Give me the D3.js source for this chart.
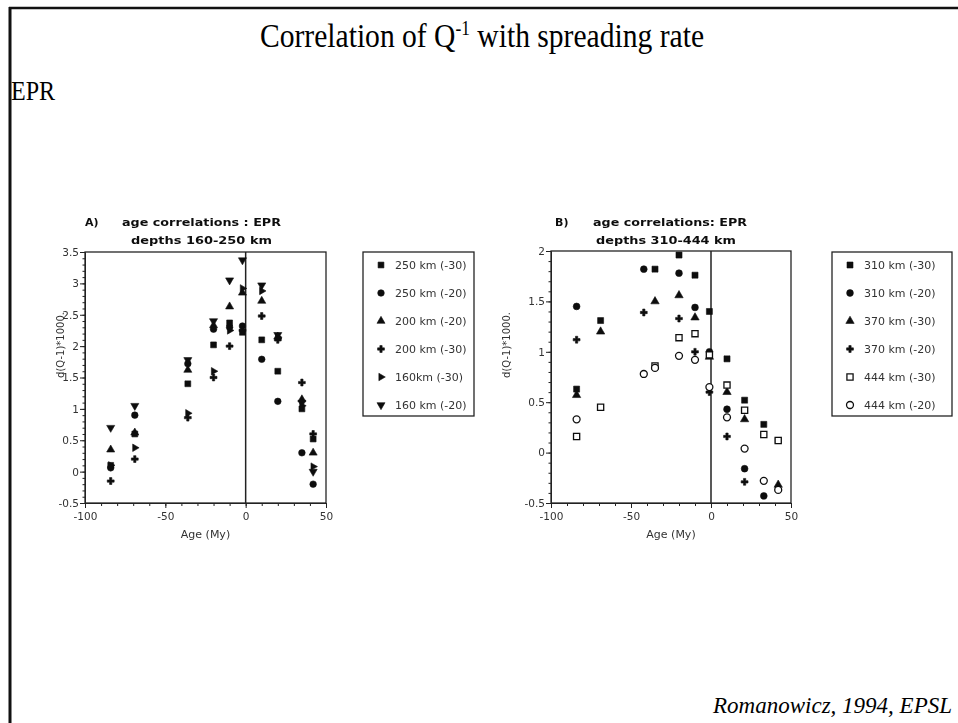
<!DOCTYPE html>
<html>
<head>
<meta charset="utf-8">
<script src="https://cdn.jsdelivr.net/npm/d3@7"></script>
<style>
  body { margin: 0; background: #fff; }
  svg { display: block; }
  .tick text { font-family: "DejaVu Sans", sans-serif; font-size: 10.5px; fill: #333; }
  .axis path, .axis line { stroke: #222; }
</style>
</head>
<body>
<svg id="slide" width="958" height="723"></svg>
<script>
// ages of the sampled columns (My)
var agesA = [-84, -69, -36, -20, -10, -2, 10, 20, 35, 42];
var agesB = [-84, -69, -42, -35, -20, -10, -1, 10, 21, 33, 42];

// panel A: depths 160-250 km, d(Q-1)*1000
var a250_30 = [0.10, 0.60, 1.40, 2.02, 2.37, 2.22, 2.10, 1.60, 1.00, 0.52];
var a250_20 = [0.06, 0.90, 1.72, 2.27, 2.30, 2.32, 1.79, 1.12, 0.30, -0.20];
var a200_20 = [0.35, 0.62, 1.62, 2.33, 2.63, 2.85, 2.72, 2.15, 1.15, 0.30];
var a200_30 = [-0.15, 0.20, 0.86, 1.50, 2.00, 2.25, 2.48, 2.10, 1.42, 0.60];
var a160_30 = [0.10, 0.38, 0.93, 1.60, 2.25, 2.92, 2.88, 2.14, 1.05, 0.08];
var a160_20 = [0.70, 1.05, 1.78, 2.40, 3.05, 3.37, 2.97, 2.18, 1.10, 0.00];

// panel B: depths 310-444 km
var b310_30 = [0.63, 1.31, null, 1.82, 1.96, 1.76, 1.40, 0.93, 0.52, 0.28, 0.12];
var b310_20 = [1.45, null, 1.82, null, 1.78, 1.44, 1.00, 0.43, -0.16, -0.43, null];
var b370_30 = [0.57, 1.20, null, 1.50, 1.56, 1.34, 0.95, 0.60, 0.33, null, -0.32];
var b370_20 = [1.12, null, 1.39, null, 1.33, 1.00, 0.60, 0.16, -0.29, null, null];
var b444_30 = [0.16, 0.45, null, 0.86, 1.14, 1.18, 0.97, 0.67, 0.42, 0.18, 0.12];
var b444_20 = [0.33, null, 0.78, 0.84, 0.96, 0.92, 0.65, 0.35, 0.04, -0.28, -0.37];

var labelsA = ["250 km (-30)", "250 km (-20)", "200 km (-20)", "200 km (-30)", "160km (-30)", "160 km (-20)"];
var labelsB = ["310 km (-30)", "310 km (-20)", "370 km (-30)", "370 km (-20)", "444 km (-30)", "444 km (-20)"];

var yTicksA = [-0.5, 0, 0.5, 1, 1.5, 2, 2.5, 3, 3.5];
var yTicksB = [-0.5, 0, 0.5, 1, 1.5, 2];
var xTicks = [-100, -50, 0, 50];

var svg = d3.select("#slide");

// slight softness on the scanned panels
var defs = svg.append("defs");
defs.append("filter").attr("id", "soft")
  .append("feGaussianBlur").attr("stdDeviation", 0.35);

// slide frame
svg.append("line").attr("x1", 9).attr("y1", 8).attr("x2", 958).attr("y2", 8)
  .attr("stroke", "#111").attr("stroke-width", 2.5);
svg.append("line").attr("x1", 10).attr("y1", 7).attr("x2", 10).attr("y2", 723)
  .attr("stroke", "#111").attr("stroke-width", 3);

// slide title with superscript
var title = svg.append("g").attr("transform", "translate(482,47) scale(0.87,1)")
  .append("text")
  .attr("text-anchor", "middle")
  .style("font-family", "'Liberation Serif', 'Times New Roman', serif")
  .style("font-size", "34px")
  .attr("fill", "#000");
title.append("tspan").text("Correlation of Q");
title.append("tspan").attr("dy", -12).style("font-size", "20px").text("-1");
title.append("tspan").attr("dy", 12).text(" with spreading rate");

svg.append("g").attr("transform", "translate(11,100) scale(0.86,1)")
  .append("text")
  .style("font-family", "'Liberation Serif', 'Times New Roman', serif")
  .style("font-size", "28px")
  .text("EPR");

svg.append("text")
  .attr("x", 952).attr("y", 713)
  .attr("text-anchor", "end")
  .style("font-family", "'Liberation Serif', 'Times New Roman', serif")
  .style("font-style", "italic")
  .style("font-size", "23px")
  .text("Romanowicz, 1994, EPSL");

// marker shapes, one per series
var sym = d3.symbol();
var shapes = [
  { type: d3.symbolSquare, size: 34, rot: 0, fill: true },
  { type: d3.symbolCircle, size: 34, rot: 0, fill: true },
  { type: d3.symbolTriangle, size: 28, rot: 0, fill: true },
  { type: d3.symbolCross, size: 26, rot: 0, fill: true },
  { type: d3.symbolTriangle, size: 24, rot: 90, fill: true },
  { type: d3.symbolTriangle, size: 28, rot: 180, fill: true }
];
var shapesB = [
  { type: d3.symbolSquare, size: 36, rot: 0, fill: true },
  { type: d3.symbolCircle, size: 36, rot: 0, fill: true },
  { type: d3.symbolTriangle, size: 30, rot: 0, fill: true },
  { type: d3.symbolCross, size: 26, rot: 0, fill: true },
  { type: d3.symbolSquare, size: 38, rot: 0, fill: false },
  { type: d3.symbolCircle, size: 38, rot: 0, fill: false }
];

function drawMarker(g, s, x, y) {
  g.append("path")
    .attr("d", sym.type(s.type).size(s.size)())
    .attr("transform", "translate(" + x + "," + y + ") rotate(" + s.rot + ")")
    .attr("fill", s.fill ? "#111" : "#fff")
    .attr("stroke", "#111")
    .attr("stroke-width", s.fill ? 0.6 : 1.3);
}

var sans = "'DejaVu Sans', sans-serif";
// plain hyphen for negatives, as on the original axes
var fmt = function(d) { return String(d); };

function panel(opt) {
  var g = svg.append("g").attr("class", "panel").attr("filter", "url(#soft)");

  var x = d3.scaleLinear().domain([-100, 50]).range(opt.xr);
  var y = d3.scaleLinear().domain(opt.yd).range([503, opt.top]);

  // minor ticks
  g.append("g").attr("class", "axis").attr("transform", "translate(0,503)")
    .call(d3.axisBottom(x).tickValues(d3.range(-100, 51, 10)).tickSize(3).tickFormat(""))
    .select(".domain").remove();
  g.append("g").attr("class", "axis").attr("transform", "translate(" + opt.xr[0] + ",0)")
    .call(d3.axisLeft(y).tickValues(d3.range(opt.yd[0] * 10, opt.yd[1] * 10 + 1).map(function(d) { return d / 10; })).tickSize(2.5).tickFormat(""))
    .select(".domain").remove();

  // major ticks
  g.append("g").attr("class", "axis").attr("transform", "translate(0,503)")
    .call(d3.axisBottom(x).tickValues(xTicks).tickSize(5).tickPadding(5).tickFormat(fmt));
  g.append("g").attr("class", "axis").attr("transform", "translate(" + opt.xr[0] + ",0)")
    .call(d3.axisLeft(y).tickValues(opt.yt).tickSize(5).tickPadding(1).tickFormat(fmt));

  // frame and zero line
  g.append("rect")
    .attr("x", opt.xr[0]).attr("y", opt.top)
    .attr("width", opt.xr[1] - opt.xr[0]).attr("height", 503 - opt.top)
    .attr("fill", "none").attr("stroke", "#222").attr("stroke-width", 1.3);
  g.append("line")
    .attr("x1", x(0)).attr("x2", x(0)).attr("y1", opt.top).attr("y2", 503)
    .attr("stroke", "#222").attr("stroke-width", 1.5);

  // points
  opt.series.forEach(function(vals, i) {
    vals.forEach(function(v, j) {
      if (v === null) return;
      drawMarker(g, opt.shapes[i], x(opt.ages[j]), y(v));
    });
  });

  // axis titles
  g.append("text")
    .attr("x", (opt.xr[0] + opt.xr[1]) / 2).attr("y", 538)
    .attr("text-anchor", "middle")
    .style("font-family", sans)
    .style("font-size", "11px").attr("fill", "#333")
    .text("Age (My)");
  g.append("text")
    .attr("transform", "translate(" + opt.ylx + ",345) rotate(-90)")
    .attr("text-anchor", "middle")
    .style("font-family", sans)
    .style("font-size", "10px").attr("fill", "#333")
    .text("d(Q-1)*1000.");

  // panel heading
  var heads = [
    [opt.letter, opt.letterX, 226, null],
    [opt.head1, opt.headX, 226, opt.head1W],
    [opt.head2, opt.head2X, 244, opt.head2W]
  ];
  heads.forEach(function(h) {
    var t = g.append("text").attr("x", h[1]).attr("y", h[2])
      .style("font-family", sans).style("font-weight", "bold").style("font-size", "11px")
      .attr("fill", "#111")
      .text(h[0]);
    if (h[3]) t.attr("textLength", h[3]).attr("lengthAdjust", "spacingAndGlyphs");
  });

  // legend
  var lg = g.append("g");
  lg.append("rect")
    .attr("x", opt.leg[0]).attr("y", 252)
    .attr("width", opt.leg[1]).attr("height", 164)
    .attr("fill", "#fff").attr("stroke", "#222").attr("stroke-width", 1.3);
  opt.labels.forEach(function(t, i) {
    var yy = 265 + i * 28;
    drawMarker(lg, opt.shapes[i], opt.leg[0] + 18, yy);
    lg.append("text")
      .attr("x", opt.leg[0] + 32).attr("y", yy + 4)
      .style("font-family", sans)
      .style("font-size", "11px").attr("fill", "#333")
      .text(t);
  });
}

panel({
  xr: [85, 326], top: 252, yd: [-0.5, 3.5], yt: yTicksA,
  ages: agesA, series: [a250_30, a250_20, a200_20, a200_30, a160_30, a160_20],
  shapes: shapes, labels: labelsA, leg: [363, 111], ylx: 64,
  letter: "A)", letterX: 85, headX: 122, head2X: 131, head1W: 159, head2W: 141,
  head1: "age correlations : EPR", head2: "depths 160-250 km"
});

panel({
  xr: [551, 791], top: 251, yd: [-0.5, 2], yt: yTicksB,
  ages: agesB, series: [b310_30, b310_20, b370_30, b370_20, b444_30, b444_20],
  shapes: shapesB, labels: labelsB, leg: [832, 120], ylx: 510,
  letter: "B)", letterX: 555, headX: 593, head2X: 596, head1W: 154, head2W: 140,
  head1: "age correlations: EPR", head2: "depths 310-444 km"
});
</script>
</body>
</html>
